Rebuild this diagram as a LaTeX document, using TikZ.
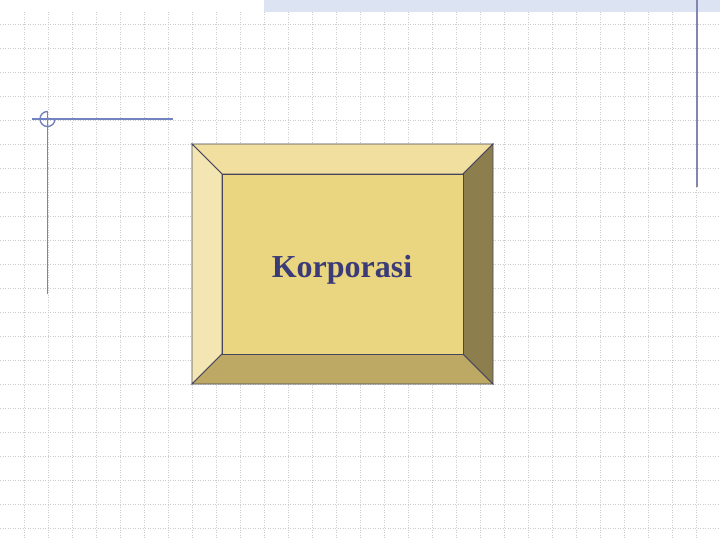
\documentclass[tikz,border=0pt]{standalone}
\usepackage{fontspec}
\setmainfont{Liberation Serif}
\begin{document}
\begin{tikzpicture}[x=1pt,y=-1pt,
  gridline/.style={draw=black!20,line width=0.8pt,dash pattern=on 1pt off 1.5pt},
  accent/.style={draw=accentblue,line width=1.4pt},
  bevel/.style={draw=boxline,line width=0.9pt,line join=miter},
  label/.style={font=\bfseries\fontsize{32}{38}\selectfont,text=labelblue}]
\definecolor{accentblue}{HTML}{7383C0}
\definecolor{accentgray}{HTML}{8088B0}
\definecolor{bandblue}{HTML}{DCE3F3}
\definecolor{boxline}{HTML}{454560}
\definecolor{topbev}{HTML}{F0DF9E}
\definecolor{leftbev}{HTML}{F4E6B2}
\definecolor{facecol}{HTML}{EAD580}
\definecolor{botbev}{HTML}{BDA864}
\definecolor{rightbev}{HTML}{8C7F4D}
\definecolor{labelblue}{HTML}{3B3B78}
\useasboundingbox[fill=white] (0,0) rectangle (720,540);
% grid
\foreach \gx in {24,48,...,696} {\draw[gridline] (\gx,12) -- (\gx,540);}
\foreach \gy in {24,48,...,528} {\draw[gridline] (0,\gy) -- (720,\gy);}
% top band
\fill[bandblue] (264,0) rectangle (720,12);
% accent lines
\draw[accent] (32,119) -- (173,119);
\draw[accent] (47.5,111) -- (47.5,294);
\draw[accent] (47.5,111.5) arc[start angle=-90,end angle=-360,radius=7.5];
\draw[draw=accentgray,line width=1.4pt] (697,0) -- (697,187);
% bevelled box
\coordinate (o1) at (192,144); \coordinate (o2) at (493,144);
\coordinate (o3) at (493,384); \coordinate (o4) at (192,384);
\coordinate (i1) at (222,174); \coordinate (i2) at (463,174);
\coordinate (i3) at (463,354); \coordinate (i4) at (222,354);
\filldraw[bevel,fill=topbev] (o1) -- (o2) -- (i2) -- (i1) -- cycle;
\filldraw[bevel,fill=leftbev] (o1) -- (i1) -- (i4) -- (o4) -- cycle;
\filldraw[bevel,fill=botbev] (o4) -- (i4) -- (i3) -- (o3) -- cycle;
\filldraw[bevel,fill=rightbev] (o2) -- (o3) -- (i3) -- (i2) -- cycle;
\filldraw[bevel,fill=facecol] (i1) rectangle (i3);
\node[label,anchor=base,inner sep=0pt] (lbl) at (342,277) {Korporasi};
\end{tikzpicture}
\end{document}
